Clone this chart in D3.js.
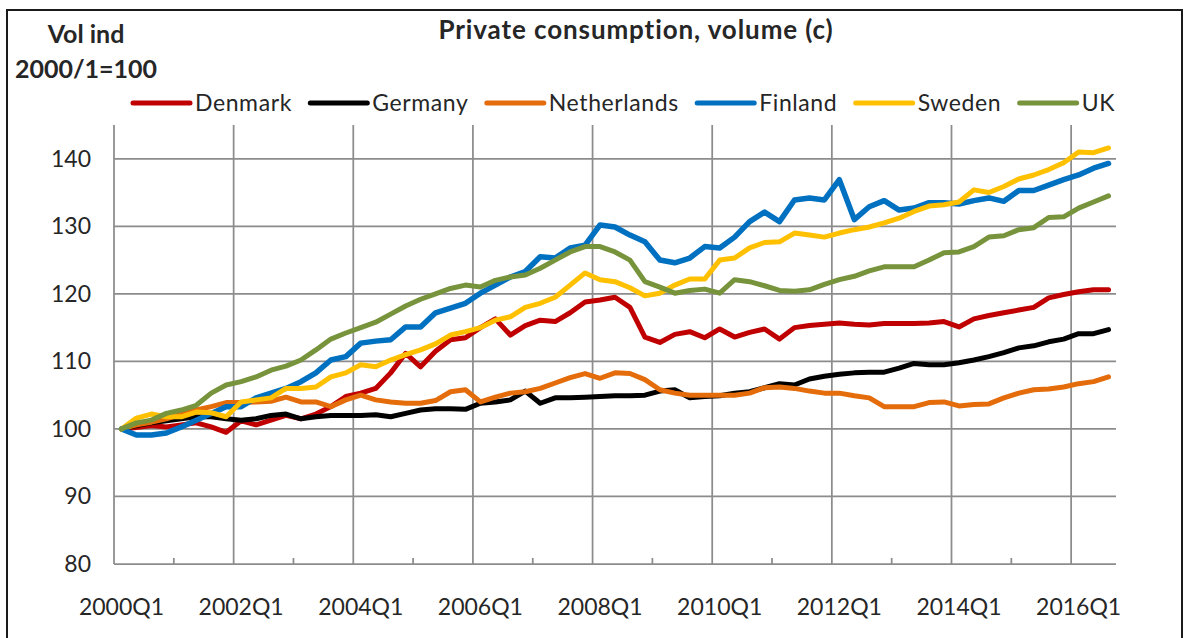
<!DOCTYPE html>
<html>
<head>
<meta charset="utf-8">
<script src="https://cdn.jsdelivr.net/npm/d3@7"></script>
<style>
	body { margin: 0; background: #fff; }
	svg { display: block; }
	text { font-family: Lato, "Open Sans", sans-serif; fill: #262626; }
</style>
</head>
<body>
<svg id="chart"></svg>
<script>
// quarters 2000Q1 .. 2016Q3
var quarters = [];
for (var yr = 2000; yr <= 2016; yr++) {
	for (var q = 1; q <= 4; q++) {
		if (yr == 2016 && q > 3) break;
		quarters.push(yr + "Q" + q);
	}
}

var countries = ["Denmark", "Germany", "Netherlands", "Finland", "Sweden", "UK"];
var colours = ["#c00000", "#000000", "#e46c0a", "#0070c0", "#ffc000", "#77933c"];

var yTicks = [80, 90, 100, 110, 120, 130, 140];

var denmark = [100, 100.2, 100.5, 100.3, 100.6, 100.9, 100.3, 99.5, 101.2, 100.6,
	101.3, 102, 101.5, 102.2, 103.3, 104.8, 105.3, 106, 108.3, 111.2,
	109.2, 111.5, 113.2, 113.5, 115, 116.3, 113.9, 115.3, 116.1, 115.9,
	117.2, 118.8, 119.1, 119.5, 118, 113.6, 112.8, 114, 114.4, 113.5,
	114.8, 113.6, 114.3, 114.8, 113.3, 115, 115.3, 115.5, 115.7, 115.5,
	115.4, 115.6, 115.6, 115.6, 115.7, 115.9, 115.1, 116.3, 116.8, 117.2,
	117.6, 118, 119.4, 119.9, 120.3, 120.6, 120.6];

var germany = [100, 100.5, 100.9, 101.2, 101.5, 101.8, 101.8, 101.5, 101.3, 101.5,
	102, 102.2, 101.5, 101.8, 102, 102, 102, 102.1, 101.8, 102.3,
	102.8, 103, 103, 102.9, 103.8, 104, 104.3, 105.6, 103.8, 104.6,
	104.6, 104.7, 104.8, 104.9, 104.9, 105, 105.6, 105.8, 104.6, 104.8,
	104.9, 105.3, 105.5, 106.1, 106.7, 106.5, 107.4, 107.8, 108.1, 108.3,
	108.4, 108.4, 109, 109.7, 109.5, 109.5, 109.8, 110.2, 110.7, 111.3,
	112, 112.3, 112.9, 113.3, 114.1, 114.1, 114.7];

var netherlands = [100, 100.6, 101, 101.5, 102.2, 102.8, 103.3, 103.9, 103.9, 104,
	104.1, 104.7, 104, 104, 103.3, 104.3, 105, 104.3, 104, 103.8,
	103.8, 104.2, 105.5, 105.8, 104, 104.7, 105.3, 105.5, 106, 106.8,
	107.6, 108.2, 107.5, 108.3, 108.2, 107.3, 105.8, 105.3, 105, 105,
	105, 105, 105.3, 106.1, 106.2, 106, 105.6, 105.3, 105.3, 104.9,
	104.6, 103.3, 103.3, 103.3, 103.9, 104, 103.4, 103.6, 103.7, 104.6,
	105.3, 105.8, 105.9, 106.2, 106.7, 107, 107.7];

var finland = [100, 99.1, 99.1, 99.4, 100.3, 101.3, 102.3, 103.3, 103.3, 104.6,
	105.3, 106, 107, 108.3, 110.2, 110.7, 112.7, 113, 113.2, 115.1,
	115.1, 117.2, 117.9, 118.6, 120.1, 121.3, 122.5, 123.3, 125.5, 125.3,
	126.8, 127.2, 130.2, 129.9, 128.7, 127.7, 125, 124.6, 125.3, 127,
	126.8, 128.4, 130.7, 132.1, 130.7, 133.9, 134.2, 133.9, 136.9, 131,
	132.9, 133.8, 132.4, 132.7, 133.5, 133.5, 133.3, 133.8, 134.2, 133.7,
	135.3, 135.3, 136.1, 136.9, 137.6, 138.6, 139.3];

var sweden = [100, 101.6, 102.2, 101.8, 101.8, 102.5, 102.4, 101.8, 104, 104.3,
	104.6, 106, 106, 106.2, 107.7, 108.3, 109.5, 109.2, 110.2, 111,
	111.7, 112.6, 113.9, 114.4, 115, 116.1, 116.6, 118, 118.6, 119.5,
	121.3, 123.1, 122.1, 121.8, 120.9, 119.7, 120.1, 121.3, 122.2, 122.2,
	125, 125.3, 126.8, 127.6, 127.7, 129, 128.7, 128.4, 129, 129.5,
	129.9, 130.5, 131.2, 132.2, 133, 133.2, 133.6, 135.4, 135, 135.9,
	137, 137.6, 138.4, 139.4, 141, 140.9, 141.6];

var uk = [100, 100.9, 101.3, 102.3, 102.8, 103.5, 105.3, 106.5, 107, 107.7,
	108.7, 109.3, 110.2, 111.7, 113.3, 114.2, 115, 115.8, 117, 118.2,
	119.2, 120, 120.8, 121.3, 121, 122, 122.5, 122.8, 123.8, 125,
	126.2, 127, 127, 126.2, 125, 121.8, 121, 120.1, 120.5, 120.7,
	120.1, 122.1, 121.8, 121.2, 120.5, 120.4, 120.6, 121.4, 122.1, 122.6,
	123.4, 124, 124, 124, 125, 126.1, 126.2, 127, 128.4, 128.6,
	129.5, 129.8, 131.3, 131.4, 132.7, 133.6, 134.5];

var series = [denmark, germany, netherlands, finland, sweden, uk];

var width = 1189,
	height = 638;

var svg = d3.select("#chart")
	.attr("width", width)
	.attr("height", height);

// outer frame (bottom runs off the picture)
svg.append("path")
	.attr("d", "M7,645V10H1182V645")
	.attr("fill", "none")
	.attr("stroke", "#1a1a1a")
	.attr("stroke-width", 2);

var x = d3.scaleBand()
	.domain(quarters)
	.range([114, 1116])
	.padding(0);

var y = d3.scaleLinear()
	.domain([80, 145])
	.range([564, 125]);

var grid = svg.append("g").attr("class", "grid");

// horizontal grid
grid.selectAll(".hgrid")
	.data(yTicks.filter(function (d) { return d > 80; }))
	.enter()
	.append("line")
	.attr("x1", x.range()[0])
	.attr("x2", x.range()[1])
	.attr("y1", function (d) { return y(d); })
	.attr("y2", function (d) { return y(d); })
	.attr("stroke", "#8c8c8c")
	.attr("stroke-width", 1.75);

// vertical grid every 2 years, minor ticks in between
grid.selectAll(".vgrid")
	.data(quarters.filter(function (d, i) { return i % 8 == 0; }))
	.enter()
	.append("line")
	.attr("x1", function (d) { return x(d); })
	.attr("x2", function (d) { return x(d); })
	.attr("y1", y(145))
	.attr("y2", y(80))
	.attr("stroke", "#8c8c8c")
	.attr("stroke-width", 1.75);

grid.selectAll(".minor")
	.data(quarters.filter(function (d, i) { return i % 8 == 4; }))
	.enter()
	.append("line")
	.attr("x1", function (d) { return x(d); })
	.attr("x2", function (d) { return x(d); })
	.attr("y1", y(80) - 6)
	.attr("y2", y(80))
	.attr("stroke", "#8c8c8c")
	.attr("stroke-width", 1.75);

// x axis line
grid.append("line")
	.attr("x1", x.range()[0])
	.attr("x2", x.range()[1])
	.attr("y1", y(80))
	.attr("y2", y(80))
	.attr("stroke", "#8c8c8c")
	.attr("stroke-width", 1.75);

var xAxis = svg.append("g")
	.attr("transform", "translate(0," + y(80) + ")")
	.call(d3.axisBottom(x)
		.tickValues(quarters.filter(function (d, i) { return i % 8 == 0; }))
		.tickSize(0)
		.tickPadding(35));
xAxis.select(".domain").remove();
xAxis.selectAll("text")
	.style("font-family", "Lato")
	.style("font-size", "23px")
	.attr("fill", "#262626");

var yAxis = svg.append("g")
	.attr("transform", "translate(" + x.range()[0] + ",0)")
	.call(d3.axisLeft(y)
		.tickValues(yTicks)
		.tickSize(0)
		.tickPadding(23));
yAxis.select(".domain").remove();
yAxis.selectAll("text")
	.style("font-family", "Lato")
	.style("font-size", "23px")
	.attr("fill", "#262626");

// lines
var line = d3.line()
	.x(function (d, i) { return x(quarters[i]) + x.bandwidth() / 2; })
	.y(function (d) { return y(d); });

svg.selectAll(".series")
	.data(series)
	.enter()
	.append("path")
	.attr("class", "series")
	.attr("d", line)
	.attr("fill", "none")
	.attr("stroke", function (d, i) { return colours[i]; })
	.attr("stroke-width", function (d, i) { return i == 3 ? 5.5 : 5; })
	.attr("stroke-linejoin", "round")
	.attr("stroke-linecap", "round");

// titles
svg.append("text")
	.attr("x", 636)
	.attr("y", 39)
	.attr("text-anchor", "middle")
	.style("font-weight", "bold")
	.style("font-size", "26px")
	.style("letter-spacing", "0.9px")
	.attr("fill", "#1a1a1a")
	.text("Private consumption, volume (c)");

svg.append("text")
	.attr("x", 86)
	.attr("y", 43)
	.attr("text-anchor", "middle")
	.style("font-weight", "bold")
	.style("font-size", "25px")
	.attr("fill", "#1a1a1a")
	.text("Vol ind");

svg.append("text")
	.attr("x", 86)
	.attr("y", 78)
	.attr("text-anchor", "middle")
	.style("font-weight", "bold")
	.style("font-size", "25px")
	.attr("fill", "#1a1a1a")
	.text("2000/1=100");

// legend: flow layout, then spread to fill 133..1115
var legend = svg.append("g").attr("class", "legend");
var items = legend.selectAll(".item")
	.data(countries)
	.enter()
	.append("g")
	.attr("class", "item");
items.append("line")
	.attr("x1", 0)
	.attr("x2", 57)
	.attr("y1", 103)
	.attr("y2", 103)
	.attr("stroke", function (d, i) { return colours[i]; })
	.attr("stroke-width", 5)
	.attr("stroke-linecap", "round");
items.append("text")
	.attr("x", 62)
	.attr("y", 111)
	.style("font-size", "23px")
	.style("letter-spacing", "0.6px")
	.attr("fill", "#262626")
	.text(function (d) { return d; });

var widths = [];
items.each(function () { widths.push(62 + d3.select(this).select("text").node().getComputedTextLength()); });
var total = d3.sum(widths);
var gap = (1115 - 133 - total) / (countries.length - 1);
var pos = 133;
items.attr("transform", function (d, i) {
	var t = "translate(" + pos + ",0)";
	pos += widths[i] + gap;
	return t;
});
</script>
</body>
</html>
